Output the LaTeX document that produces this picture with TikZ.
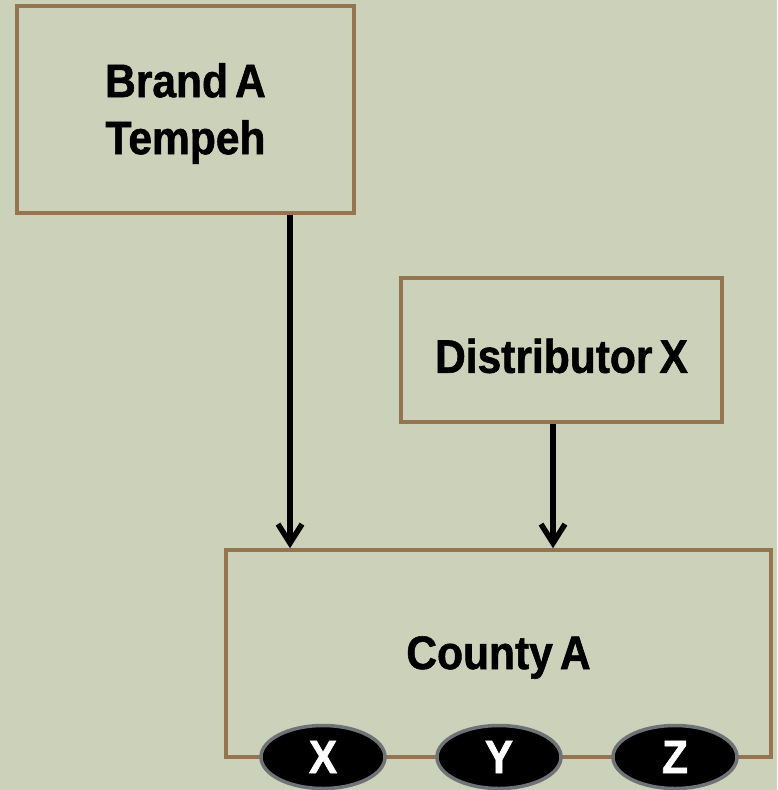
\documentclass[tikz,border=0pt]{standalone}
\usepackage{fontspec}
\setmainfont{Liberation Sans}[FakeStretch=0.905,FakeBold=1.2,WordSpace=0.6]
\usetikzlibrary{arrows.meta,shapes.geometric}
\definecolor{bg}{HTML}{CCD1B9}
\definecolor{frame}{HTML}{957450}
\definecolor{rim}{HTML}{6E7378}
\tikzset{
  box/.style={draw=frame, line width=3.5pt, fill=bg, inner sep=0pt},
  caption/.style={align=center, inner sep=0pt,
    font=\fontsize{47}{57}\selectfont\bfseries},
  flow/.style={line width=5.5pt, -{Straight Barb[length=19pt,width=24pt,line width=5.5pt]}},
  tag/.style={ellipse, draw=rim, line width=3.5pt, fill=black, text=white,
    minimum width=124pt, minimum height=63pt, inner sep=0pt,
    font=\fontsize{47}{57}\selectfont\bfseries}
}
\begin{document}
\begin{tikzpicture}[x=1pt,y=-1pt]
  \fill[bg] (0,0) rectangle (777,790);
  \useasboundingbox (0,0) rectangle (777,790);

  \node[box, minimum width=337pt, minimum height=207pt] (brand) at (185.5,109.5) {};
  \node[box, minimum width=321pt, minimum height=144pt] (dist) at (561.5,350) {};
  \node[box, minimum width=545pt, minimum height=207pt] (county) at (498.5,653.5) {};

  \node[caption] (brandtxt) at ([yshift=-4pt]brand.center) {Brand A\\Tempeh};
  \node[caption] (disttxt) at ([yshift=-6pt]dist.center) {Distributor X};
  \node[caption] (countytxt) at ([yshift=-4pt]county.center) {County A};

  \coordinate (ax) at (290,0);
  \coordinate (bx) at (553,0);
  \draw[flow] (brand.south -| ax) -- (county.north -| ax);
  \draw[flow] (dist.south -| bx) -- (county.north -| bx);

  \node[tag] (x) at (323,757) {X};
  \node[tag] (y) at (499,757) {Y};
  \node[tag] (z) at (675,757) {Z};
\end{tikzpicture}
\end{document}
